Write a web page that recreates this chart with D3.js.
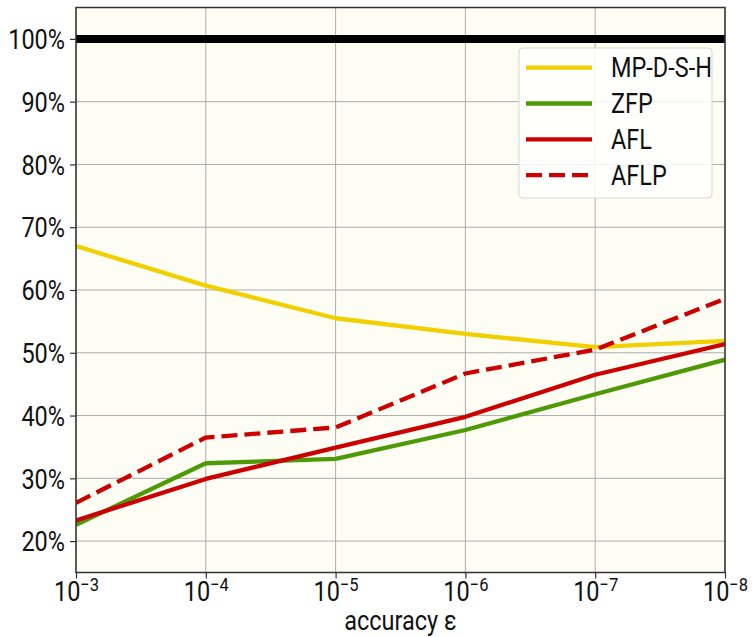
<!DOCTYPE html>
<html>
<head>
<meta charset="utf-8">
<script src="https://cdn.jsdelivr.net/npm/d3@7"></script>
<style>
  body { margin: 0; background: #fff; }
  text { font-family: Roboto, sans-serif; fill: #111; }
</style>
</head>
<body>
<div id="chart"></div>
<script>
let width = 752
let height = 637
let margin = {top: 7.5, right: 27, bottom: 64.5, left: 76}
let sx = 0.87   // horizontal squeeze to mimic the condensed face
let fs = 27

// accuracy exponents: 1e-3 ... 1e-8
let exps = [3, 4, 5, 6, 7, 8]
let yTicks = [20, 30, 40, 50, 60, 70, 80, 90, 100]

let mpdsh = [67.0, 60.7, 55.5, 53.0, 50.9, 51.9]
let zfp   = [22.6, 32.4, 33.1, 37.7, 43.4, 48.9]
let afl   = [23.3, 29.9, 34.9, 39.8, 46.5, 51.4]
let aflp  = [26.1, 36.5, 38.1, 46.7, 50.5, 58.6]

let series = [
  {name: "MP-D-S-H", values: mpdsh, color: "#f0d000", dash: null},
  {name: "ZFP", values: zfp, color: "#4e9a06", dash: null},
  {name: "AFL", values: afl, color: "#cc0000", dash: null},
  {name: "AFLP", values: aflp, color: "#cc0000", dash: "16,7"}
]

let svg = d3.select("#chart")
  .append("svg")
  .attr("width", width)
  .attr("height", height)

let x = d3.scaleLinear()
  .domain([3, 8])
  .range([margin.left, width - margin.right])

let y = d3.scaleLinear()
  .domain([15, 105])
  .range([height - margin.bottom, margin.top])

// background
svg.append("rect")
  .attr("x", margin.left)
  .attr("y", margin.top)
  .attr("width", x(8) - x(3))
  .attr("height", y(15) - y(105))
  .attr("fill", "#fdfdf4")

// grid
svg.append("g").selectAll("line")
  .data(exps)
  .enter().append("line")
  .attr("x1", d => x(d)).attr("x2", d => x(d))
  .attr("y1", y(15)).attr("y2", y(105))
  .attr("stroke", "#adadad").attr("stroke-width", 1)

svg.append("g").selectAll("line")
  .data(yTicks)
  .enter().append("line")
  .attr("x1", x(3)).attr("x2", x(8))
  .attr("y1", d => y(d)).attr("y2", d => y(d))
  .attr("stroke", "#adadad").attr("stroke-width", 1)

// 100% reference line
svg.append("line")
  .attr("x1", x(3)).attr("x2", x(8))
  .attr("y1", y(100)).attr("y2", y(100))
  .attr("stroke", "#000").attr("stroke-width", 8)

let line = d3.line()
  .x((d, i) => x(exps[i]))
  .y(d => y(d))

svg.append("clipPath").attr("id", "clip")
  .append("rect")
  .attr("x", margin.left).attr("y", margin.top)
  .attr("width", x(8) - x(3)).attr("height", y(15) - y(105))

svg.append("g").attr("clip-path", "url(#clip)")
  .selectAll("path")
  .data(series)
  .enter().append("path")
  .attr("d", d => line(d.values))
  .attr("fill", "none")
  .attr("stroke", d => d.color)
  .attr("stroke-width", 4.3)
  .attr("stroke-dasharray", d => d.dash)
  .attr("stroke-linejoin", "round")

// axes
let xAxis = d3.axisBottom(x).tickValues(exps).tickSize(6).tickFormat("")
let gx = svg.append("g")
  .attr("transform", `translate(0,${y(15)})`)
  .call(xAxis)

gx.selectAll(".tick").append("text")
  .attr("y", 29)
  .attr("text-anchor", "middle")
  .attr("transform", `scale(${sx},1)`)
  .style("font-size", fs + "px")
  .each(function(d) {
    let t = d3.select(this)
    t.append("tspan").text("10")
    t.append("tspan").attr("dy", -11).style("font-size", "19px").text("\u2212" + d)
  })

let yAxis = d3.axisLeft(y).tickValues(yTicks).tickSize(6).tickFormat(d => d + "%")
let gy = svg.append("g")
  .attr("transform", `translate(${x(3)},0)`)
  .call(yAxis)

gy.selectAll(".tick text")
  .attr("x", -11 / sx)
  .attr("dy", "0.36em")
  .attr("transform", `scale(${sx},1)`)
  .style("font-size", fs + "px")
  .style("font-family", "Roboto, sans-serif")
  .attr("fill", "#111")

svg.selectAll(".domain").remove()
svg.selectAll(".tick line").attr("stroke", "#333").attr("stroke-width", 1.2)

// spines
svg.append("rect")
  .attr("x", margin.left).attr("y", margin.top)
  .attr("width", x(8) - x(3)).attr("height", y(15) - y(105))
  .attr("fill", "none").attr("stroke", "#333").attr("stroke-width", 1.5)

svg.append("text")
  .attr("x", (x(3) + x(8)) / 2 / sx)
  .attr("y", 630)
  .attr("text-anchor", "middle")
  .attr("transform", `scale(${sx},1)`)
  .style("font-size", fs + "px")
  .text("accuracy \u03b5")

// legend
let legend = svg.append("g").attr("transform", "translate(519,48)")
legend.append("rect")
  .attr("width", 193).attr("height", 150)
  .attr("rx", 4)
  .attr("fill", "#fff").attr("fill-opacity", 0.85)
  .attr("stroke", "#d6d6d6").attr("stroke-width", 1)

let items = legend.selectAll(".item")
  .data(series)
  .enter().append("g")
  .attr("transform", (d, i) => `translate(0,${19.7 + i * 35.8})`)

items.append("line")
  .attr("x1", 7).attr("x2", 73)
  .attr("stroke", d => d.color)
  .attr("stroke-width", 4.3)
  .attr("stroke-dasharray", d => d.dash)

items.append("text")
  .attr("x", 92 / sx)
  .attr("dy", "0.36em")
  .attr("transform", `scale(${sx},1)`)
  .style("font-size", fs + "px")
  .text(d => d.name)
</script>
</body>
</html>
